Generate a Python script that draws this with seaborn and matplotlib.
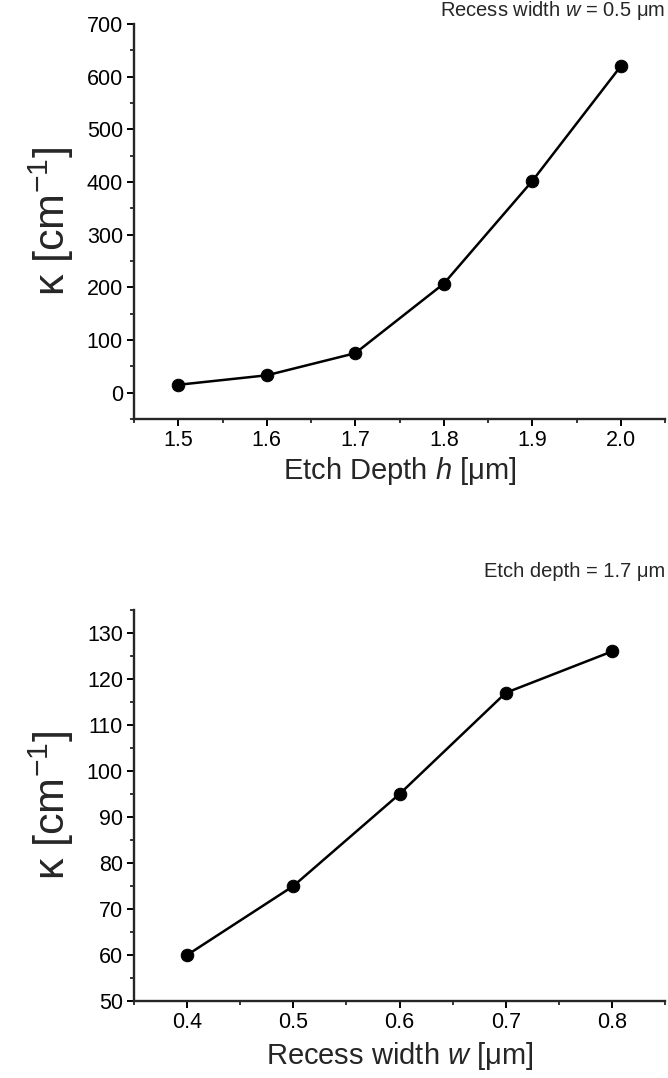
import numpy as np
import pandas as pd
import matplotlib
matplotlib.use('Agg')
import matplotlib.pyplot as plt
import seaborn as sns
from matplotlib.ticker import MultipleLocator, FormatStrFormatter

# data
etch_depth = [1.5, 1.6, 1.7, 1.8, 1.9, 2.0]
kappa_depth = [15, 33, 75, 207, 402, 620]

recess_width = [0.4, 0.5, 0.6, 0.7, 0.8]
kappa_width = [60, 75, 95, 117, 126]

sns.set_theme(style="ticks")
plt.rcParams['font.family'] = ['Liberation Sans', 'DejaVu Sans']
plt.rcParams['mathtext.fontset'] = 'custom'
plt.rcParams['mathtext.rm'] = 'Liberation Sans'
plt.rcParams['mathtext.it'] = 'Liberation Sans:italic'

fig = plt.figure(figsize=(6.68, 10.78), dpi=100)
ax1 = fig.add_axes([0.2006, 0.6113, 0.795, 0.3664])
ax2 = fig.add_axes([0.2006, 0.0714, 0.795, 0.3627])

df1 = pd.DataFrame({'h': etch_depth, 'k': kappa_depth})
df2 = pd.DataFrame({'w': recess_width, 'k': kappa_width})

sns.lineplot(data=df1, x='h', y='k', ax=ax1, color='black', lw=1.8,
             marker='o', markersize=9, markeredgecolor='black')
sns.lineplot(data=df2, x='w', y='k', ax=ax2, color='black', lw=1.8,
             marker='o', markersize=9, markeredgecolor='black')

for ax in (ax1, ax2):
    sns.despine(ax=ax)
    ax.spines['left'].set_linewidth(1.7)
    ax.spines['bottom'].set_linewidth(1.7)
    ax.tick_params(which='major', direction='out', length=5, width=1.4,
                   labelsize=15.5, colors='black', pad=3)
    ax.tick_params(which='minor', direction='out', length=3, width=1.3)
    ax.xaxis.set_major_formatter(FormatStrFormatter('%.1f'))

ax1.set_xlim(1.45, 2.05)
ax1.set_ylim(-50, 700)
ax1.xaxis.set_major_locator(MultipleLocator(0.1))
ax1.xaxis.set_minor_locator(MultipleLocator(0.05))
ax1.yaxis.set_major_locator(MultipleLocator(100))
ax1.yaxis.set_minor_locator(MultipleLocator(50))
ax1.set_xlabel('Etch Depth $\\mathit{h}$ [\u03bcm]', fontsize=21, labelpad=3)
ax1.set_ylabel('\u03ba [cm$^{-1}$]', fontsize=31, labelpad=8)
ax1.text(1.0, 1.005, 'Recess width $\\mathit{w}$ = 0.5 \u03bcm', transform=ax1.transAxes,
         ha='right', va='bottom', fontsize=14.5)

ax2.set_xlim(0.35, 0.85)
ax2.set_ylim(50, 135)
ax2.xaxis.set_major_locator(MultipleLocator(0.1))
ax2.xaxis.set_minor_locator(MultipleLocator(0.05))
ax2.yaxis.set_major_locator(MultipleLocator(10))
ax2.yaxis.set_minor_locator(MultipleLocator(5))
ax2.set_xlabel('Recess width $\\mathit{w}$ [\u03bcm]', fontsize=21, labelpad=5)
ax2.set_ylabel('\u03ba [cm$^{-1}$]', fontsize=31, labelpad=8)
ax2.text(1.0, 1.075, 'Etch depth = 1.7 \u03bcm', transform=ax2.transAxes,
         ha='right', va='bottom', fontsize=14.5)

fig.savefig('out.png', dpi=100)
